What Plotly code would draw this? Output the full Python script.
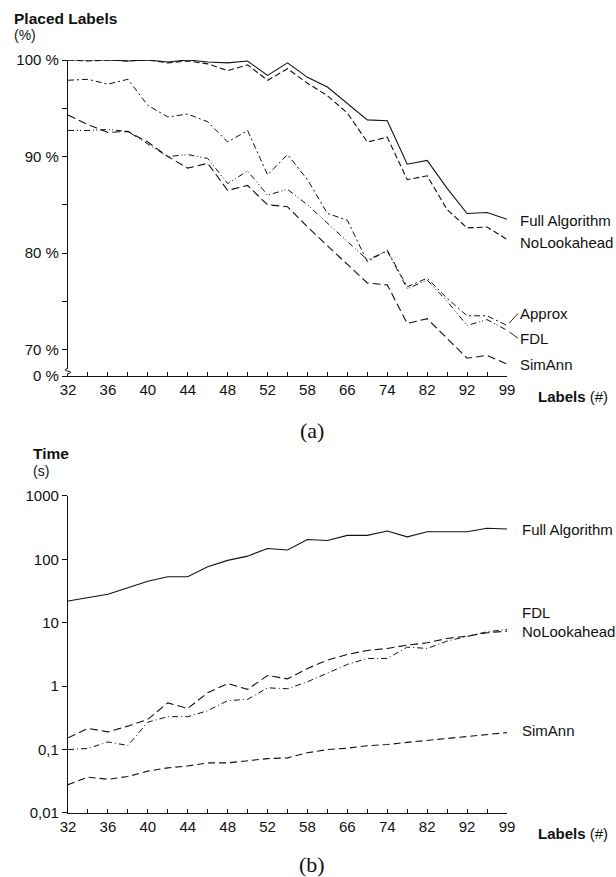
import plotly.graph_objects as go

# ---------------- data ----------------
LABEL_COUNTS = ["32", "34", "36", "38", "40", "42", "44", "46", "48", "50", "52", "55",
                "58", "62", "66", "70", "74", "78", "82", "87", "92", "96", "99"]
TICK_LABELS = ["32", "", "36", "", "40", "", "44", "", "48", "", "52", "",
               "58", "", "66", "", "74", "", "82", "", "92", "", "99"]

# (a) placed labels, percent
placed_full = [100, 100, 100, 99.9, 100, 99.8, 100, 99.8, 99.7, 99.9, 98.4, 99.7,
               98.2, 97.2, 95.5, 93.8, 93.7, 89.2, 89.6, 86.7, 84.1, 84.2, 83.5]
placed_nolook = [100, 99.9, 100, 99.9, 100, 99.7, 99.9, 99.6, 98.9, 99.5, 97.9, 99.1,
                 97.6, 96.3, 94.5, 91.5, 92.0, 87.6, 88.0, 84.5, 82.6, 82.7, 81.4]
placed_approx = [97.9, 98.0, 97.5, 98.0, 95.3, 94.1, 94.4, 93.6, 91.5, 92.7, 88.1, 90.2,
                 87.6, 84.1, 83.4, 79.1, 80.3, 76.5, 77.4, 75.3, 73.5, 73.5, 72.5]
placed_fdl = [92.7, 92.7, 92.8, 92.6, 91.3, 90.0, 90.2, 89.8, 87.2, 88.5, 86.0, 86.6,
              85.0, 83.1, 81.2, 79.3, 80.2, 76.3, 77.2, 75.0, 72.5, 73.1, 72.0]
placed_simann = [94.3, 93.3, 92.5, 92.6, 91.5, 90.0, 88.8, 89.3, 86.5, 87.0, 85.0, 84.8,
                 82.7, 80.8, 78.9, 76.9, 76.7, 72.7, 73.2, 71.2, 69.1, 69.4, 68.5]

# (b) running time, seconds
time_full = [22, 25, 28, 35.5, 45, 53, 53, 76, 96, 112, 148, 140,
             205, 198, 238, 238, 279, 226, 272, 272, 272, 308, 300]
time_nolook = [0.153, 0.215, 0.19, 0.234, 0.30, 0.545, 0.445, 0.785, 1.1, 0.89, 1.47, 1.3,
               1.9, 2.57, 3.16, 3.65, 3.93, 4.43, 4.82, 5.65, 6.15, 6.93, 7.37]
time_fdl = [0.10, 0.104, 0.132, 0.116, 0.27, 0.33, 0.33, 0.41, 0.59, 0.62, 0.94, 0.91,
            1.17, 1.62, 2.2, 2.73, 2.73, 4.12, 3.93, 5.13, 6.15, 7.19, 7.84]
time_simann = [0.028, 0.0367, 0.034, 0.0376, 0.0457, 0.0515, 0.055, 0.0617, 0.0617, 0.066,
               0.072, 0.074, 0.089, 0.1, 0.105, 0.115, 0.12, 0.13, 0.14, 0.15, 0.16, 0.175, 0.185]

Y_TICKS_A = [67.25, 70, 75, 80, 85, 90, 95, 100]
Y_TEXT_A = ["0 %", "70 %", "", "80 %", "", "90 %", "", "100 %"]
Y_TICKS_B = [0.01, 0.1, 1, 10, 100, 1000]
Y_TEXT_B = ["0,01", "0,1", "1", "10", "100", "1000"]

# ---------------- figure ----------------
FONT = "Liberation Sans, Arial, sans-serif"
SERIF = "Liberation Serif, Times New Roman, serif"
INK = "#111111"
fig = go.Figure()

def line(x, y, dash, xa, ya, w=1.1):
    fig.add_trace(go.Scatter(x=x, y=y, mode="lines", xaxis=xa, yaxis=ya,
                             line=dict(color=INK, width=w, dash=dash),
                             showlegend=False, hoverinfo="skip"))

line(LABEL_COUNTS, placed_full, "solid", "x", "y")
line(LABEL_COUNTS, placed_nolook, "6px,3px", "x", "y")
line(LABEL_COUNTS, placed_approx, "6px,3px,2px,3px", "x", "y", 1.0)
line(LABEL_COUNTS, placed_fdl, "6px,3px,1px,2px,1px,3px", "x", "y", 1.0)
line(LABEL_COUNTS, placed_simann, "8px,4px", "x", "y")

line(LABEL_COUNTS, time_full, "solid", "x2", "y2")
line(LABEL_COUNTS, time_nolook, "8px,4px", "x2", "y2")
line(LABEL_COUNTS, time_fdl, "6px,3px,1px,3px", "x2", "y2", 1.0)
line(LABEL_COUNTS, time_simann, "7px,4px", "x2", "y2")

top_dom = [0.5802, 1.0]
bot_dom = [0.0, 0.4212]

xcommon = dict(type="category", categoryorder="array", categoryarray=LABEL_COUNTS,
               range=[0, len(LABEL_COUNTS) - 1], tickmode="array",
               tickvals=LABEL_COUNTS, ticktext=TICK_LABELS,
               showline=True, linecolor=INK, linewidth=1.2, ticks="inside",
               ticklen=4, tickcolor=INK, showgrid=False, zeroline=False,
               tickfont=dict(family=FONT, size=15, color=INK))

ycommon = dict(showline=True, linecolor=INK, linewidth=1.2, ticks="outside",
               ticklen=5, tickcolor=INK, showgrid=False, zeroline=False,
               tickmode="array", tickfont=dict(family=FONT, size=15, color=INK))

fig.update_layout(
    width=616, height=877,
    margin=dict(l=68.3, r=109.3, t=60, b=64.3),
    paper_bgcolor="white", plot_bgcolor="white",
    xaxis=dict(**xcommon, anchor="y", domain=[0, 1]),
    xaxis2=dict(**xcommon, anchor="y2", domain=[0, 1]),
    yaxis=dict(**ycommon, anchor="x", domain=top_dom, range=[67.25, 100],
               tickvals=Y_TICKS_A, ticktext=Y_TEXT_A),
    yaxis2=dict(**ycommon, anchor="x2", domain=bot_dom, type="log", range=[-2, 3],
                tickvals=Y_TICKS_B, ticktext=Y_TEXT_B),
)

def txt(text, x, y, xref="paper", yref="paper", size=15, xanchor="left",
        family=FONT, **kw):
    fig.add_annotation(text=text, x=x, y=y, xref=xref, yref=yref, showarrow=False,
                       xanchor=xanchor, yanchor="middle",
                       font=dict(family=family, size=size, color=INK), **kw)

# axis titles
txt("<b>Placed Labels</b>", -0.1284, 1.0556, size=15.5)
txt("(%)", -0.1284, 1.0330, size=14)
txt("<b>Time</b>", -0.0836, 0.4775, size=15.5)
txt("(s)", -0.0836, 0.4540, size=14)
txt("<b>Labels</b> (#)", 1.0665, 0.5527)
txt("<b>Labels</b> (#)", 1.0665, -0.0271)
txt("(a)", 0.5559, 0.5084, xanchor="center", size=22, family=SERIF)
txt("(b)", 0.5559, -0.0683, xanchor="center", size=22, family=SERIF)

# series labels (a)
LX = 1.0255
txt("Full Algorithm", LX, 83.4, yref="y")
txt("NoLookahead", LX, 81.1, yref="y")
txt("SimAnn", LX, 68.5, yref="y")
last = len(LABEL_COUNTS) - 1
fig.add_annotation(text="Approx", x=last, y=placed_approx[-1], xref="x", yref="y",
                   showarrow=True, arrowhead=0, arrowwidth=0.9, arrowcolor=INK,
                   ax=11, ay=-12, xanchor="left", yanchor="middle", standoff=3,
                   font=dict(family=FONT, size=15, color=INK))
fig.add_annotation(text="FDL", x=last, y=placed_fdl[-1], xref="x", yref="y",
                   showarrow=True, arrowhead=0, arrowwidth=0.9, arrowcolor=INK,
                   ax=11, ay=8, xanchor="left", yanchor="middle", standoff=3,
                   font=dict(family=FONT, size=15, color=INK))

# series labels (b)
txt("Full Algorithm", 1.0294, 2.476, yref="y2")
txt("FDL", 1.0294, 1.16, yref="y2")
txt("NoLookahead", 1.0294, 0.86, yref="y2")
txt("SimAnn", 1.0294, -0.694, yref="y2")

# axis break mark on (a)
fig.add_shape(type="path", xref="paper", yref="paper", xsizemode="pixel", ysizemode="pixel",
              xanchor=0, yanchor=top_dom[0], path="M -3,2 L 3,2 L 3,8 L -3,8 Z",
              fillcolor="white", line=dict(width=0))
fig.add_shape(type="path", xref="paper", yref="paper", xsizemode="pixel", ysizemode="pixel",
              xanchor=0, yanchor=top_dom[0], path="M 0,8 Q -6,6 0,5 Q 6,4 -1,2",
              line=dict(color=INK, width=1))

fig.write_html("out.html", config={"displayModeBar": False},
               post_script="document.body.style.margin='0';document.body.style.overflow='hidden';")
